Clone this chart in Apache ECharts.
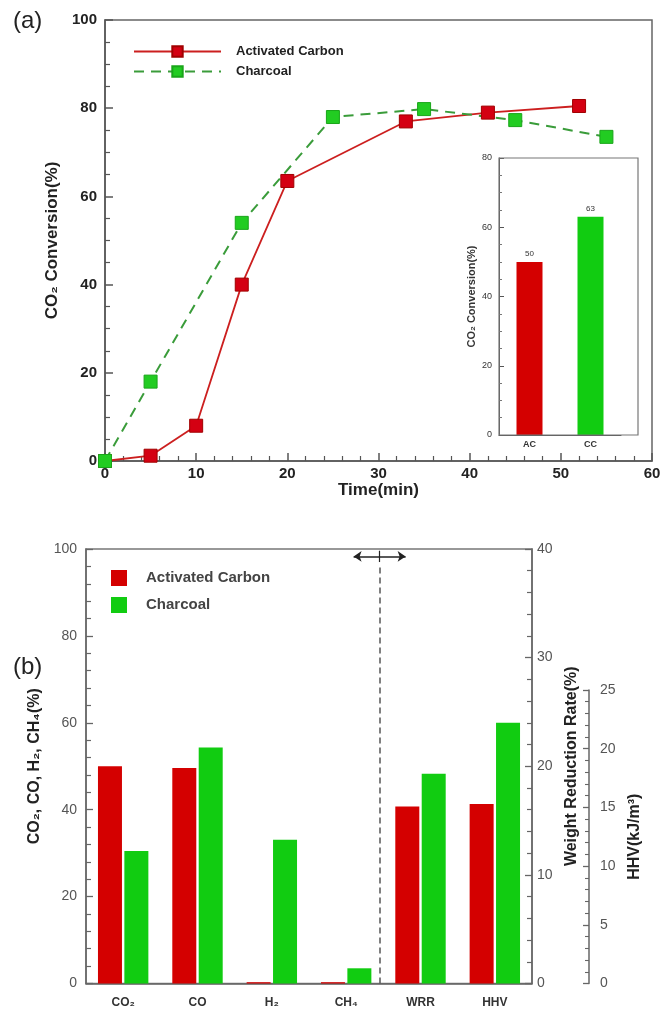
<!DOCTYPE html>
<html>
<head>
<meta charset="utf-8">
<title>CO2 conversion - activated carbon vs charcoal</title>
<script src="https://cdn.jsdelivr.net/npm/echarts@6/dist/echarts.min.js"></script>
<style>
  html, body { margin: 0; padding: 0; background: #fff; }
  #chart { width: 665px; height: 1014px; }
</style>
</head>
<body>
<div id="chart"></div>
<script>
// (a) conversion vs time
var timeAC = [0, 5, 10, 15, 20, 33, 42, 52];
var convAC = [0, 1.2, 8, 40, 63.5, 77, 79, 80.5];
var timeCC = [0, 5, 15, 25, 35, 45, 55];
var convCC = [0, 18, 54, 78, 79.8, 77.3, 73.5];

// inset
var insetCats = ['AC', 'CC'];
var insetVals = [50, 63];

// (b) gas composition, weight reduction rate, HHV
var gasCats = ['CO\u2082', 'CO', 'H\u2082', 'CH\u2084', 'WRR', 'HHV'];
var gasAC = [50, 49.6, 0.3, 0.3];
var gasCC = [30.5, 54.3, 33.1, 3.5];
var wrrAC = 16.3, wrrCC = 19.3;
var hhvAC = 15.3, hhvCC = 22.2;

var RED = '#d40000';
var GREEN = '#11cc11';
var FONT = 'Liberation Sans, Arial, DejaVu Sans, sans-serif';

// bottom panel layout; the HHV axis is shorter than the plot
var bTop = 549, bBottom = 983.5, hhvTop = 690;
var hhvMax = 25 * (bBottom - bTop) / (bBottom - hhvTop);

function pad(arr, n, at) {
    var out = [];
    for (var i = 0; i < n; i++) out.push('-');
    if (at == null) { for (var k = 0; k < arr.length; k++) out[k] = arr[k]; }
    else out[at] = arr;
    return out;
}
function pairs(xs, ys) {
    return xs.map(function (x, i) { return [x, ys[i]]; });
}

var chart = echarts.init(document.getElementById('chart'), null, {renderer: 'canvas'});

var tickLabel = {color: '#222', fontWeight: 'bold', fontSize: 15, fontFamily: FONT};
var grayLabel = {color: '#555', fontSize: 14, fontFamily: FONT};

var option = {
    animation: false,
    backgroundColor: '#fff',
    textStyle: {fontFamily: FONT},
    title: [
        {text: '(a)', left: 8, top: 4, textStyle: {fontSize: 24, fontWeight: 'normal', color: '#222', fontFamily: FONT}},
        {text: '(b)', left: 8, top: 650, textStyle: {fontSize: 24, fontWeight: 'normal', color: '#222', fontFamily: FONT}}
    ],
    legend: [
        {
            left: 128, top: 40, orient: 'vertical',
            itemWidth: 87, itemHeight: 13, itemGap: 7,
            textStyle: {fontSize: 13, fontWeight: 'bold', color: '#222', padding: [0, 0, 0, 10]},
            data: ['Activated Carbon', 'Charcoal'],
            selectedMode: false
        },
        {
            left: 106, top: 565, orient: 'vertical',
            itemWidth: 16, itemHeight: 16, itemGap: 11,
            textStyle: {fontSize: 15, fontWeight: 'bold', color: '#444', padding: [0, 0, 0, 14]},
            data: [
                {name: 'Activated Carbon', icon: 'rect', itemStyle: {color: RED, borderWidth: 0}},
                {name: 'Charcoal', icon: 'rect', itemStyle: {color: GREEN, borderWidth: 0}}
            ],
            selectedMode: false
        }
    ],
    grid: [
        {left: 105, right: 13, top: 20, height: 441, show: true, borderColor: '#666', borderWidth: 1.5},
        {left: 499, width: 122, top: 158, height: 277},
        {left: 86, right: 133, top: bTop, height: bBottom - bTop, show: true, borderColor: '#777', borderWidth: 1.5},
        {left: 589, right: 72, top: hhvTop, height: bBottom - hhvTop}
    ],
    graphic: [
        {type: 'rect', shape: {x: 499, y: 158, width: 139, height: 277},
         style: {fill: null, stroke: '#777', lineWidth: 1.2}, z: 5}
    ],
    xAxis: [
        {
            gridIndex: 0, type: 'value', min: 0, max: 60, interval: 10,
            axisLine: {lineStyle: {color: '#555', width: 1.5}},
            axisTick: {inside: true, length: 8, lineStyle: {color: '#555', width: 1.5}},
            minorTick: {show: true, splitNumber: 5, length: 5, lineStyle: {color: '#555', width: 1.2}},
            splitLine: {show: false},
            axisLabel: Object.assign({margin: 5}, tickLabel),
            name: 'Time(min)', nameLocation: 'middle', nameGap: 21,
            nameTextStyle: {fontSize: 17, fontWeight: 'bold', color: '#222'}
        },
        {
            gridIndex: 1, type: 'category', data: insetCats,
            axisLine: {lineStyle: {color: '#555'}},
            axisTick: {show: false},
            axisLabel: {fontSize: 9, fontWeight: 'bold', color: '#333', margin: 5}
        },
        {
            gridIndex: 2, type: 'category', data: gasCats,
            axisLine: {lineStyle: {color: '#666', width: 1.5}},
            axisTick: {show: false},
            axisLabel: {fontSize: 12, fontWeight: 'bold', color: '#333', margin: 13, fontFamily: 'Liberation Sans, DejaVu Sans, sans-serif'}
        },
        {gridIndex: 2, type: 'value', min: 0, max: 6, show: false},
        {gridIndex: 3, type: 'value', min: 0, max: 1, show: false}
    ],
    yAxis: [
        {
            gridIndex: 0, type: 'value', min: 0, max: 100, interval: 20,
            axisLine: {show: true, lineStyle: {color: '#555', width: 1.5}},
            axisTick: {show: true, inside: true, length: 8, lineStyle: {color: '#555', width: 1.5}},
            minorTick: {show: true, splitNumber: 4, length: 5, lineStyle: {color: '#555', width: 1.2}},
            splitLine: {show: false},
            axisLabel: Object.assign({margin: 8}, tickLabel),
            name: 'CO\u2082 Conversion(%)', nameLocation: 'middle', nameGap: 38,
            nameTextStyle: {fontSize: 17, fontWeight: 'bold', color: '#222'}
        },
        {
            gridIndex: 1, type: 'value', min: 0, max: 80, interval: 20,
            axisLine: {show: true, lineStyle: {color: '#555'}},
            axisTick: {show: true, inside: true, length: 5, lineStyle: {color: '#555'}},
            minorTick: {show: true, splitNumber: 4, length: 3, lineStyle: {color: '#777'}},
            splitLine: {show: false},
            axisLabel: {fontSize: 9, color: '#333', margin: 7},
            name: 'CO\u2082 Conversion(%)', nameLocation: 'middle', nameGap: 22,
            nameTextStyle: {fontSize: 11, fontWeight: 'bold', color: '#333'}
        },
        {
            gridIndex: 2, type: 'value', min: 0, max: 100, interval: 20,
            axisLine: {show: true, lineStyle: {color: '#666', width: 1.5}},
            axisTick: {show: true, inside: true, length: 7, lineStyle: {color: '#666', width: 1.3}},
            minorTick: {show: true, splitNumber: 5, length: 5, lineStyle: {color: '#666', width: 1.2}},
            splitLine: {show: false},
            axisLabel: Object.assign({margin: 9}, grayLabel),
            name: 'CO\u2082, CO, H\u2082, CH\u2084(%)', nameLocation: 'middle', nameGap: 40,
            nameTextStyle: {fontSize: 16, fontWeight: 'bold', color: '#222'}
        },
        {
            gridIndex: 2, type: 'value', position: 'right', min: 0, max: 40, interval: 10,
            axisLine: {show: true, lineStyle: {color: '#666', width: 1.5}},
            axisTick: {show: true, inside: true, length: 7, lineStyle: {color: '#666', width: 1.3}},
            minorTick: {show: true, splitNumber: 5, length: 5, lineStyle: {color: '#666', width: 1.2}},
            splitLine: {show: false},
            axisLabel: Object.assign({margin: 5}, grayLabel),
            name: 'Weight Reduction Rate(%)', nameLocation: 'middle', nameGap: 28,
            nameTextStyle: {fontSize: 16, fontWeight: 'bold', color: '#222'}
        },
        {gridIndex: 2, type: 'value', min: 0, max: hhvMax, show: false},
        {
            gridIndex: 3, type: 'value', position: 'right', min: 0, max: 25, interval: 5,
            axisLine: {show: true, lineStyle: {color: '#666', width: 1.5}},
            axisTick: {show: true, inside: true, length: 6, lineStyle: {color: '#666', width: 1.3}},
            minorTick: {show: true, splitNumber: 5, length: 4, lineStyle: {color: '#666', width: 1.1}},
            splitLine: {show: false},
            axisLabel: Object.assign({margin: 7}, grayLabel),
            name: 'HHV(kJ/m\u00b3)', nameLocation: 'middle', nameGap: 34,
            nameTextStyle: {fontSize: 16, fontWeight: 'bold', color: '#222'}
        }
    ],
    series: [
        {
            name: 'Activated Carbon', type: 'line', xAxisIndex: 0, yAxisIndex: 0,
            data: pairs(timeAC, convAC),
            symbol: 'rect', symbolSize: 13,
            lineStyle: {color: '#cc1f1f', width: 1.8},
            itemStyle: {color: '#d40012', borderColor: '#a00000', borderWidth: 1}
        },
        {
            name: 'Charcoal', type: 'line', xAxisIndex: 0, yAxisIndex: 0,
            data: pairs(timeCC, convCC),
            symbol: 'rect', symbolSize: 13,
            lineStyle: {color: '#3a9c3a', width: 2, type: [10, 7]},
            itemStyle: {color: '#22cc22', borderColor: '#1aa51a', borderWidth: 1}
        },
        {
            name: 'inset', type: 'bar', xAxisIndex: 1, yAxisIndex: 1, barWidth: 26,
            data: insetVals.map(function (v, i) {
                return {value: v, itemStyle: {color: i === 0 ? RED : GREEN}};
            }),
            label: {show: true, position: 'top', fontSize: 8, color: '#333', distance: 4}
        },
        {
            name: 'Activated Carbon', type: 'bar', xAxisIndex: 2, yAxisIndex: 2, stack: 'ac',
            barWidth: 24, barGap: '10%', data: pad(gasAC, 6), itemStyle: {color: RED}
        },
        {
            name: 'Charcoal', type: 'bar', xAxisIndex: 2, yAxisIndex: 2, stack: 'cc',
            barWidth: 24, barGap: '10%', data: pad(gasCC, 6), itemStyle: {color: GREEN}
        },
        {
            name: 'Activated Carbon', type: 'bar', xAxisIndex: 2, yAxisIndex: 3, stack: 'ac',
            barWidth: 24, barGap: '10%', data: pad(wrrAC, 6, 4), itemStyle: {color: RED}
        },
        {
            name: 'Charcoal', type: 'bar', xAxisIndex: 2, yAxisIndex: 3, stack: 'cc',
            barWidth: 24, barGap: '10%', data: pad(wrrCC, 6, 4), itemStyle: {color: GREEN}
        },
        {
            name: 'Activated Carbon', type: 'bar', xAxisIndex: 2, yAxisIndex: 4, stack: 'ac',
            barWidth: 24, barGap: '10%', data: pad(hhvAC, 6, 5), itemStyle: {color: RED}
        },
        {
            name: 'Charcoal', type: 'bar', xAxisIndex: 2, yAxisIndex: 4, stack: 'cc',
            barWidth: 24, barGap: '10%', data: pad(hhvCC, 6, 5), itemStyle: {color: GREEN}
        },
        {
            // separator between gas composition and WRR/HHV
            name: 'divider', type: 'line', xAxisIndex: 3, yAxisIndex: 2, data: [],
            silent: true,
            markLine: {
                silent: true, symbol: ['none', 'none'], label: {show: false},
                data: [
                    [
                        {coord: [3.95, 0], lineStyle: {color: '#555', type: [6, 4], width: 1.5}},
                        {coord: [3.95, 96]}
                    ],
                    [
                        {coord: [3.6, 98.3], symbol: 'arrow', symbolSize: 8,
                         lineStyle: {color: '#222', type: 'solid', width: 1.5}},
                        {coord: [4.3, 98.3], symbol: 'arrow', symbolSize: 8}
                    ],
                    [
                        {coord: [3.95, 97], lineStyle: {color: '#222', type: 'solid', width: 1.2}},
                        {coord: [3.95, 99.6]}
                    ]
                ]
            }
        }
    ]
};

chart.setOption(option);
</script>
</body>
</html>
